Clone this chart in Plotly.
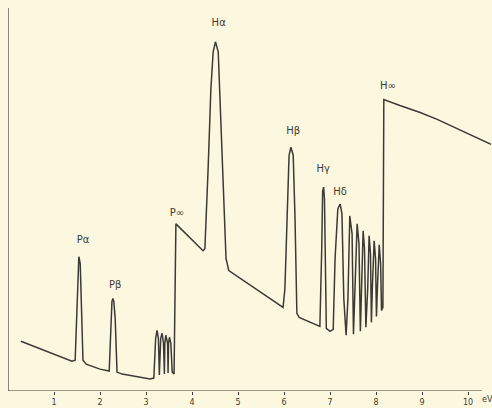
import plotly.graph_objects as go

# Spectrum trace: photon energy (eV) vs. intensity (arbitrary units)
energy_ev = [0.28, 1.39, 1.46, 1.50, 1.52, 1.54, 1.57, 1.59, 1.63, 1.70, 2.00,
             2.20, 2.24, 2.26, 2.28, 2.30, 2.33, 2.37, 2.48, 3.09,
             3.17, 3.21, 3.24, 3.27, 3.29, 3.32, 3.35, 3.38, 3.40, 3.41, 3.43, 3.47,
             3.48, 3.49, 3.51, 3.54, 3.57, 3.61, 3.63, 3.65,
             4.24, 4.28, 4.35, 4.41, 4.46, 4.51, 4.57, 4.63, 4.70, 4.74, 4.80,
             5.98, 6.02, 6.07, 6.11, 6.15, 6.20, 6.24, 6.28, 6.33, 6.78,
             6.82, 6.84, 6.86, 6.88, 6.92, 7.00,
             7.07, 7.11, 7.17, 7.22, 7.26, 7.30, 7.35,
             7.39, 7.43, 7.48, 7.51, 7.54, 7.59, 7.63, 7.66,
             7.68, 7.72, 7.75, 7.78, 7.82, 7.85, 7.88, 7.90,
             7.92, 7.96, 7.99, 8.01, 8.03, 8.07, 8.10, 8.12, 8.15,
             8.17, 8.52, 8.96, 9.33, 9.83, 10.50]
intensity = [50, 30, 31, 93, 128, 135, 128, 93, 31, 27, 22,
             20, 73, 90, 93, 90, 73, 19, 17, 12,
             13, 53, 61, 53, 16, 53, 58, 48, 17, 48, 56, 48,
             18, 48, 54, 48, 19, 17, 93, 168,
             141, 143, 223, 303, 341, 351, 341, 263, 168, 133, 121,
             84, 103, 193, 237, 245, 237, 173, 78, 74, 65,
             143, 201, 205, 193, 63, 60,
             62, 133, 183, 188, 178, 93, 56,
             93, 176, 158, 57, 93, 168, 148, 60,
             93, 161, 143, 64, 103, 156, 138, 69,
             103, 151, 133, 75, 103, 147, 128, 81, 84,
             293, 287, 280, 273, 262, 248]

# Line labels
line_labels = ["Pα", "Pβ", "P∞", "Hα", "Hβ", "Hγ", "Hδ", "H∞"]
label_ev = [1.63, 2.33, 3.67, 4.58, 6.20, 6.85, 7.22, 8.26]
label_int = [151, 106, 178, 369, 261, 223, 200, 306]

tick_vals = [1, 2, 3, 4, 5, 6, 7, 8, 9, 10]
tick_text = [str(v) for v in tick_vals]

ink = "#3c3a36"
paper = "#fcf8e0"

fig = go.Figure()
fig.add_trace(go.Scatter(x=energy_ev, y=intensity, mode="lines",
                         line=dict(color=ink, width=1.5), hoverinfo="skip",
                         showlegend=False))
fig.add_trace(go.Scatter(x=label_ev, y=label_int, mode="text", text=line_labels,
                         textfont=dict(family="DejaVu Sans", size=10, color=ink),
                         textposition="middle center", showlegend=False,
                         hoverinfo="skip"))

# hand-drawn axes
fig.add_shape(type="line", xref="x", yref="y", x0=0, x1=10.3, y0=0, y1=0,
              line=dict(color=ink, width=1.2))
fig.add_shape(type="line", xref="x", yref="y", x0=0, x1=0, y0=0, y1=385,
              line=dict(color=ink, width=1.2))
fig.add_annotation(x=10.42, y=0, xref="x", yref="y", text="eV", showarrow=False,
                   yanchor="top", yshift=-2, font=dict(family="DejaVu Sans", size=8, color=ink))

fig.update_xaxes(range=[0, 10.5], showline=False, showgrid=False, zeroline=False,
                 tickvals=tick_vals, ticktext=tick_text, ticks="outside", ticklen=3,
                 tickcolor=ink, tickfont=dict(family="DejaVu Sans", size=8, color=ink))
fig.update_yaxes(range=[0, 385], showline=False, showgrid=False, zeroline=False,
                 showticklabels=False, ticks="")
fig.update_layout(width=492, height=408, margin=dict(l=8, r=1, t=8, b=15),
                  paper_bgcolor=paper, plot_bgcolor=paper)
fig.write_html("out.html",
               config={"displayModeBar": False},
               post_script="document.body.style.margin='0';"
                           "document.body.style.background='#fcf8e0';"
                           "document.body.style.overflow='hidden';")
